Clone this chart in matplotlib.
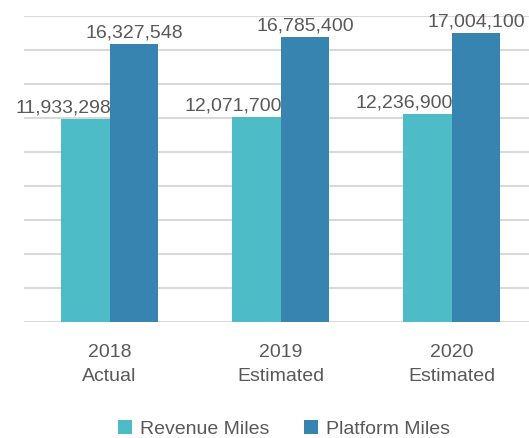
import matplotlib.pyplot as plt
import numpy as np

plt.rcParams['font.family'] = ['Liberation Sans', 'DejaVu Sans']

categories = ['2018\nActual', '2019\nEstimated', '2020\nEstimated']
revenue_miles = [11933298, 12071700, 12236900]
platform_miles = [16327548, 16785400, 17004100]

col_rev = '#4EBCC7'
col_plat = '#3884B0'
txt = '#595959'

fig = plt.figure(figsize=(5.29, 4.38), dpi=100)
W, H = 529, 438
# axes runs a bit past the right edge, like the cropped original
ax = fig.add_axes([24 / W, (H - 322) / H, 513 / W, 306 / H])

x = np.arange(len(categories))
w = 0.2865
b1 = ax.bar(x - w / 2, revenue_miles, w, color=col_rev, zorder=3)
b2 = ax.bar(x + w / 2, platform_miles, w, color=col_plat, zorder=3)

fs = 14
for xi, v in zip(x, revenue_miles):
    ax.text(xi + 0.01, v + 150000, f'{v:,}', ha='right', va='bottom',
            fontsize=fs, color=txt, zorder=4)
for xi, v in zip(x, platform_miles):
    ax.text(xi + w / 2, v + 150000, f'{v:,}', ha='center', va='bottom',
            fontsize=fs, color=txt, zorder=4)

ax.set_xlim(-0.5, 2.5)
ax.set_ylim(0, 18000000)
ax.set_yticks(np.arange(0, 18000001, 2000000))
ax.yaxis.grid(True, color='#D9D9D9', linewidth=1.5, zorder=0)
ax.set_yticklabels([])
ax.tick_params(axis='y', length=0)
ax.set_xticks(x)
ax.set_xticklabels(categories, fontsize=fs, color=txt, linespacing=1.5)
ax.tick_params(axis='x', length=0, pad=16)
for s in ax.spines.values():
    s.set_visible(False)

fig.legend([b1, b2], ['Revenue Miles', 'Platform Miles'], loc='center',
           bbox_to_anchor=(284 / W, 1 - 429 / H), ncol=2, frameon=False,
           fontsize=fs, labelcolor=txt, handlelength=0.7, handleheight=0.7,
           handletextpad=0.4, columnspacing=1.8)

fig.savefig('out.png', dpi=100)
